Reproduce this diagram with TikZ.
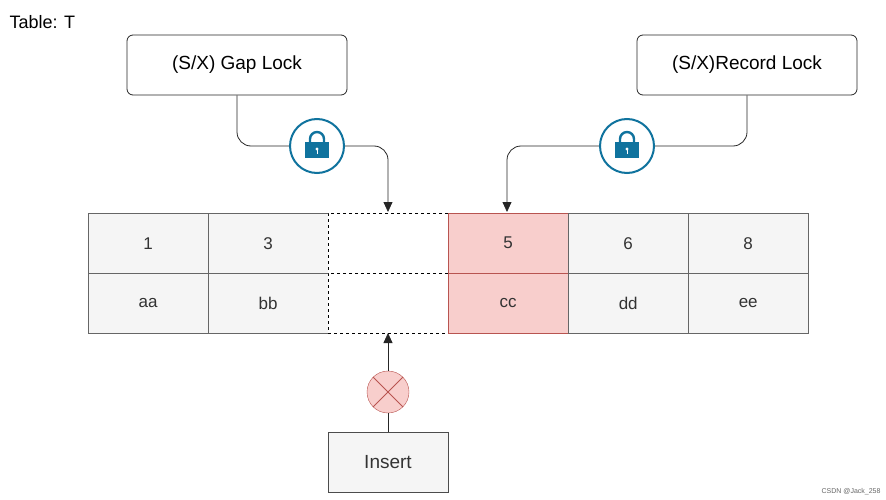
\documentclass[tikz,border=0pt]{standalone}
\usepackage{fontspec}
\setmainfont{Liberation Sans}
\definecolor{cellgray}{HTML}{F5F5F5}
\definecolor{cellline}{HTML}{666666}
\definecolor{redfill}{HTML}{F8CECC}
\definecolor{redline}{HTML}{B85450}
\definecolor{lockblue}{HTML}{10739E}
\tikzset{
  cell/.style={draw=cellline, fill=cellgray, minimum width=120pt, minimum height=60pt, anchor=north west, inner sep=0pt, font=\fontsize{17}{20}\selectfont, text=black!80},
  hot/.style={cell, draw=redline, fill=redfill},
  gap/.style={cell, draw=black, dashed, fill=white},
  lockbox/.style={draw=black!85, thick, rounded corners=6pt, fill=white, minimum width=220pt, minimum height=60pt, font=\fontsize{19}{22}\selectfont},
  link/.style={thick, black!85, rounded corners=14pt, -{Triangle[width=9pt,length=10pt]}},
}
\usetikzlibrary{arrows.meta}
\newcommand{\padlock}[2]{%
  \node (#1) [circle, draw=lockblue, line width=2pt, fill=white, minimum size=54pt] at #2 {};
  \begin{scope}[shift={(#1.center)}, y=1pt]
    \fill [lockblue] (-12,-12) rectangle (12,4);
    \draw [lockblue, line width=2.4pt] (-7,4) -- (-7,7) arc (180:0:7) -- (7,4);
    \fill [white] (0,-3) circle (1.6);
    \draw [white, line width=1pt] (0,-3) -- (0,-8);
  \end{scope}
}
\begin{document}
\begin{tikzpicture}[x=1pt, y=-1pt]
  \useasboundingbox (0,0) rectangle (886,500);
  \node [anchor=north west, font=\fontsize{18}{21}\selectfont] (title) at (6,12) {Table: T};

  % table
  \node (k1) [cell] at (88,213) {1};
  \node (v1) [cell] at (88,273) {aa};
  \node (k3) [cell] at (208,213) {3};
  \node (v3) [cell] at (208,273) {bb};
  \node (kg) [gap] at (328,213) {};
  \node (vg) [gap] at (328,273) {};
  \node (k5) [hot] at (448,213) {5};
  \node (v5) [hot] at (448,273) {cc};
  \node (k6) [cell] at (568,213) {6};
  \node (v6) [cell] at (568,273) {dd};
  \node (k8) [cell] at (688,213) {8};
  \node (v8) [cell] at (688,273) {ee};

  % locks
  \node (gap lock) [lockbox] at (237,65) {(S/X) Gap Lock};
  \node (record lock) [lockbox] at (747,65) {(S/X)Record Lock};
  \padlock{gap icon}{(317,146)}
  \padlock{record icon}{(627,146)}
  \coordinate (gap target) at (388,212);
  \coordinate (record target) at (507,212);
  \draw [thick, black!85, rounded corners=14pt]
    (gap lock.south) |- (gap icon.west);
  \draw [link] (gap icon.east) -| (gap target);
  \draw [thick, black!85, rounded corners=14pt]
    (record lock.south) |- (record icon.east);
  \draw [link] (record icon.west) -| (record target);

  % insert
  \node (insert) [cell, anchor=center, draw=black!70, font=\fontsize{19}{22}\selectfont] at (388,462) {Insert};
  \node (blocked) [circle, draw=redline, fill=redfill, minimum size=42pt] at (388,392) {};
  \draw [redline, thick] (blocked.north west) -- (blocked.south east)
    (blocked.north east) -- (blocked.south west);
  \coordinate (insert target) at (388,333);
  \draw [thick, black!85] (insert.north) -- (blocked.south);
  \draw [link] (blocked.north) -- (insert target);

  \node [anchor=south east, font=\fontsize{7}{8}\selectfont, text=black!60] (mark) at (884,498) {CSDN @Jack\_258};
\end{tikzpicture}
\end{document}
